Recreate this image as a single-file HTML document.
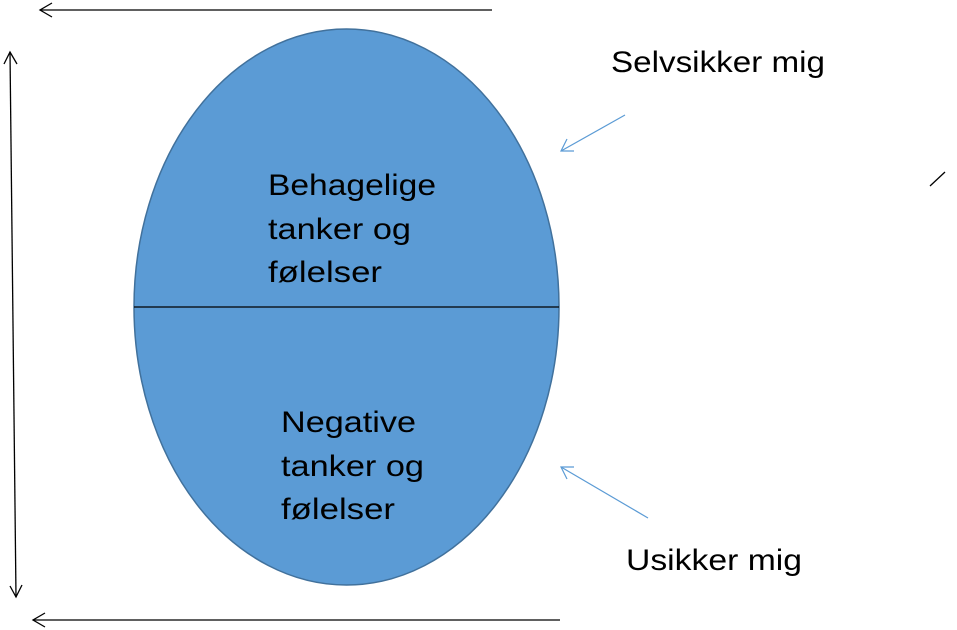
<!DOCTYPE html><html><head><style>body{margin:0;background:#fff}svg{display:block}text{font-family:"Liberation Sans",sans-serif;font-size:30px;fill:#000}</style></head><body>
<svg width="957" height="630" viewBox="0 0 957 630">
<ellipse cx="346.5" cy="307" rx="212.5" ry="278" fill="#5b9bd5" stroke="#41719c" stroke-width="1.5"/>
<line x1="134" y1="307" x2="559" y2="307" stroke="#000" stroke-width="1.2"/>
<g stroke="#000" stroke-width="1.3" fill="none">
<line x1="492" y1="10" x2="40" y2="10"/><polyline points="52,3 40,10 52,17"/>
<line x1="560" y1="620" x2="33" y2="620"/><polyline points="45,613 33,620 45,627"/>
<line x1="10" y1="52" x2="16" y2="597"/><polyline points="4,64 10,52 17,64"/><polyline points="10,586 16,597 22,585"/>
<line x1="930" y1="186" x2="945" y2="172"/>
</g>
<g stroke="#5b9bd5" stroke-width="1.2" fill="none">
<line x1="625" y1="115" x2="561" y2="151"/><polyline points="567,139 561,151 574,151"/>
<line x1="648" y1="518" x2="561" y2="467"/><polyline points="574,467 561,467 567,479"/>
</g>
<text x="268" y="195" textLength="168" lengthAdjust="spacingAndGlyphs">Behagelige</text>
<text x="268" y="239" textLength="143" lengthAdjust="spacingAndGlyphs">tanker og</text>
<text x="268" y="282" textLength="114" lengthAdjust="spacingAndGlyphs">følelser</text>
<text x="281" y="432" textLength="135" lengthAdjust="spacingAndGlyphs">Negative</text>
<text x="281" y="476" textLength="143" lengthAdjust="spacingAndGlyphs">tanker og</text>
<text x="281" y="519" textLength="114" lengthAdjust="spacingAndGlyphs">følelser</text>
<text x="611" y="72" textLength="214" lengthAdjust="spacingAndGlyphs">Selvsikker mig</text>
<text x="626" y="570" textLength="176" lengthAdjust="spacingAndGlyphs">Usikker mig</text>
</svg></body></html>
